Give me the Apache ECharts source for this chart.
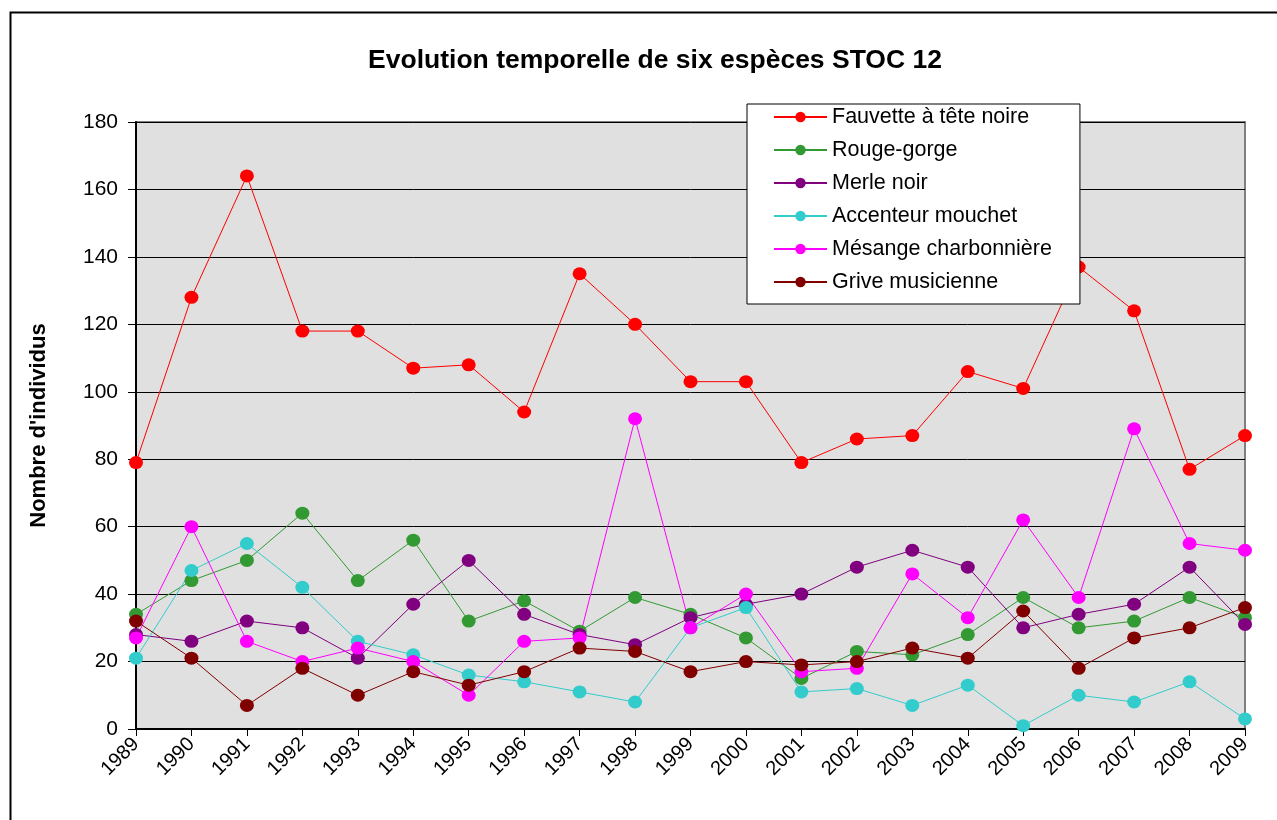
<!DOCTYPE html>
<html>
<head>
<meta charset="utf-8">
<script src="https://cdn.jsdelivr.net/npm/echarts@6/dist/echarts.min.js"></script>
<style>
  html, body { margin: 0; padding: 0; background: #fff; }
  #chart { width: 1277px; height: 820px; }
</style>
</head>
<body>
<div id="chart"></div>
<script>
var years = ['1989','1990','1991','1992','1993','1994','1995','1996','1997','1998','1999',
             '2000','2001','2002','2003','2004','2005','2006','2007','2008','2009'];

var fauvette = [79,128,164,118,118,107,108,94,135,120,103,103,79,86,87,106,101,137,124,77,87];
var rougeGorge = [34,44,50,64,44,56,32,38,29,39,34,27,15,23,22,28,39,30,32,39,33];
var merleNoir = [28,26,32,30,21,37,50,34,28,25,33,37,40,48,53,48,30,34,37,48,31];
var accenteur = [21,47,55,42,26,22,16,14,11,8,30,36,11,12,7,13,1,10,8,14,3];
var mesange = [27,60,26,20,24,20,10,26,27,92,30,40,17,18,46,33,62,39,89,55,53];
var grive = [32,21,7,18,10,17,13,17,24,23,17,20,19,20,24,21,35,18,27,30,36];

var names = ['Fauvette à tête noire','Rouge-gorge','Merle noir','Accenteur mouchet','Mésange charbonnière','Grive musicienne'];
var colors = ['#ff0000','#339933','#800080','#33cccc','#ff00ff','#800000'];
var values = [fauvette, rougeGorge, merleNoir, accenteur, mesange, grive];

var seriesArr = [];
for (var i = 0; i < names.length; i++) {
  seriesArr.push({
    name: names[i],
    type: 'line',
    symbol: 'circle',
    symbolSize: [14, 13],
    showAllSymbol: true,
    lineStyle: { color: colors[i], width: 1 },
    itemStyle: { color: colors[i] },
    emphasis: { disabled: true },
    data: values[i]
  });
}

var font = '"Liberation Sans", Arial, sans-serif';

var option = {
  animation: false,
  textStyle: { fontFamily: font },
  title: {
    text: 'Evolution temporelle de six espèces STOC 12',
    left: 650,
    textAlign: 'center',
    top: 42,
    textStyle: { fontSize: 26.5, fontWeight: 'bold', color: '#000', fontFamily: font }
  },
  graphic: [{
    type: 'rect',
    left: 8, top: 10,
    shape: { width: 1300, height: 900 },
    style: { fill: 'none', stroke: '#000', lineWidth: 2 },
    silent: true, z: -10
  }],
  legend: {
    orient: 'vertical',
    left: 747,
    top: 104,
    padding: [2, 28, 11, 26],
    itemWidth: 53,
    itemHeight: 13,
    itemGap: 11,
    backgroundColor: '#fff',
    borderColor: '#000',
    borderWidth: 1,
    borderRadius: 0,
    textStyle: { fontSize: 21.5, color: '#000', lineHeight: 22, fontFamily: font },
    data: names
  },
  grid: {
    left: 136, right: 32, top: 122, bottom: 91,
    show: true,
    backgroundColor: '#e0e0e0',
    borderColor: '#808080',
    borderWidth: 2
  },
  xAxis: {
    type: 'category',
    boundaryGap: false,
    data: years,
    axisLine: { lineStyle: { color: '#000', width: 2 } },
    axisTick: { show: true, length: 7, alignWithLabel: true, lineStyle: { color: '#000' } },
    axisLabel: { rotate: 45, fontSize: 20, color: '#000', margin: 12, fontFamily: font, interval: 0 }
  },
  yAxis: {
    type: 'value',
    min: 0, max: 180, interval: 20,
    name: "Nombre d'individus",
    nameLocation: 'middle',
    nameGap: 86,
    nameRotate: 90,
    nameTextStyle: { fontSize: 22, fontWeight: 'bold', color: '#000', fontFamily: font },
    axisLine: { show: true, lineStyle: { color: '#000', width: 2 } },
    axisTick: { show: true, length: 8, lineStyle: { color: '#000' } },
    axisLabel: { fontSize: 21, color: '#000', margin: 18, fontFamily: font },
    splitLine: { show: true, lineStyle: { color: '#000', width: 1 } }
  },
  series: seriesArr
};

var myChart = echarts.init(document.getElementById('chart'));
myChart.setOption(option);
</script>
</body>
</html>
